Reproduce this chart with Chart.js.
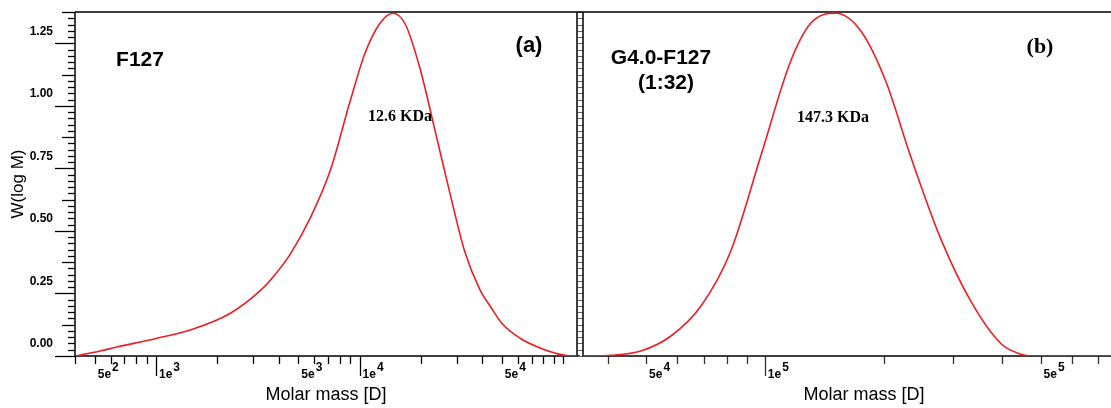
<!DOCTYPE html>
<html>
<head>
<meta charset="utf-8">
<script src="https://cdn.jsdelivr.net/npm/chart.js@4.4.1/dist/chart.umd.min.js"></script>
<style>
html, body { margin: 0; padding: 0; background: #fff; overflow: hidden; width: 1111px; height: 408px; }
#wrapA { position: absolute; left: 0; top: 0; width: 580px; height: 408px; }
#wrapB { position: absolute; left: 577px; top: 0; width: 570px; height: 408px; }
</style>
</head>
<body>
<div id="wrapA"><canvas id="chartA"></canvas></div>
<div id="wrapB"><canvas id="chartB"></canvas></div>
<script>
// panel (a): F127
const massA = [404, 531, 643, 1000, 1470, 2310, 3240, 3840, 4550, 5710, 7170, 9000, 10630, 12600, 14600,
               16800, 19800, 23500, 27800, 32800, 39000, 44600, 50100, 61800, 77000, 91900, 108900, 117000];
const wA = [0, 0.02, 0.036, 0.07, 0.104, 0.17, 0.26, 0.325, 0.405, 0.55, 0.74, 1.02, 1.21, 1.33, 1.37,
            1.325, 1.15, 0.90, 0.65, 0.42, 0.265, 0.19, 0.13, 0.07, 0.032, 0.011, 0, 0];

// panel (b): G4.0-F127 (1:32)
const massB = [34600, 40700, 48500, 57800, 68900, 82000, 97700, 116400, 130700, 151300,
               175000, 202400, 234000, 279000, 332500, 396500, 440000, 472000, 920000];
const wB = [0, 0.003, 0.02, 0.08, 0.20, 0.42, 0.80, 1.18, 1.33, 1.37,
            1.30, 1.10, 0.80, 0.47, 0.22, 0.05, 0.01, 0, 0];

// tick labels (mantissa + 'e' then exponent, drawn as superscript)
const xTicksA = [500, 1000, 5000, 10000, 50000];
const xLabelsA = ['5e2', '1e3', '5e3', '1e4', '5e4'];
const xTicksB = [50000, 100000, 500000];
const xLabelsB = ['5e4', '1e5', '5e5'];
const yTicks = [0, 0.25, 0.5, 0.75, 1.0, 1.25];
const yLabels = ['0.00', '0.25', '0.50', '0.75', '1.00', '1.25'];

const RED = 'rgb(236, 30, 36)';
const SANS = 'Liberation Sans, Arial, sans-serif';
const SERIF = 'Liberation Serif, Times New Roman, serif';

// minor tick positions along a log axis (every integer x 10^n)
function logMinor(min, max) {
  const out = [];
  for (let p = Math.floor(Math.log10(min)); p <= Math.ceil(Math.log10(max)); p++) {
    for (let k = 1; k < 10; k++) {
      const v = k * Math.pow(10, p);
      if (v >= min * 0.999 && v <= max) out.push(v);
    }
  }
  return out;
}

function decor(cfg) {
  return {
    id: 'decor',
    beforeDatasetsDraw(chart) {
      const { ctx, chartArea: a, scales } = chart;
      ctx.save();
      ctx.strokeStyle = cfg.hatch ? '#666' : '#000';
      ctx.lineWidth = cfg.hatch ? 1 : 1.3;
      // y ticks every 0.025
      for (let i = 0; i <= 55; i++) {
        const py = Math.round(scales.y.getPixelForValue(i * 0.025)) + 0.5;
        let len = i % 10 === 0 ? 20 : (i % 5 === 0 ? 13 : 7);
        if (cfg.hatch) len = 5;
        ctx.beginPath();
        ctx.moveTo(a.left - len, py);
        ctx.lineTo(a.left, py);
        ctx.stroke();
      }
      // x ticks
      ctx.lineWidth = 1.3;
      ctx.strokeStyle = cfg.xTickColor;
      logMinor(scales.x.min, scales.x.max).forEach(v => {
        const px = Math.round(scales.x.getPixelForValue(v)) + 0.5;
        const len = cfg.longX.includes(v) ? 20 : 8;
        ctx.beginPath();
        ctx.moveTo(px, a.bottom);
        ctx.lineTo(px, a.bottom + len);
        ctx.stroke();
      });
      // frame
      ctx.strokeStyle = '#000';
      ctx.lineWidth = 1.5;
      ctx.beginPath();
      ctx.moveTo(a.left - (cfg.hatch ? 6 : 0), a.top);
      ctx.lineTo(a.right, a.top);
      ctx.moveTo(a.left, a.top);
      ctx.lineTo(a.left, a.bottom);
      ctx.lineTo(a.right + 20, a.bottom);
      if (cfg.rightBorder) {
        ctx.moveTo(a.right, a.top);
        ctx.lineTo(a.right, a.bottom);
      }
      ctx.stroke();
      // x tick labels with superscript exponent
      ctx.fillStyle = '#000';
      ctx.textAlign = 'left';
      ctx.textBaseline = 'middle';
      cfg.xTicks.forEach((v, i) => {
        const px = scales.x.getPixelForValue(v) + 3;
        const lab = cfg.xLabels[i];
        const base = lab.slice(0, -1), exp = lab.slice(-1);
        ctx.font = 'bold 12px ' + SANS;
        ctx.fillText(base, px, a.bottom + 19);
        const bw = ctx.measureText(base).width;
        ctx.fillText(exp, px + bw + 1, a.bottom + 12);
      });
      ctx.restore();
    },
    afterDraw(chart) {
      const ctx = chart.ctx;
      ctx.save();
      ctx.fillStyle = '#000';
      ctx.textAlign = 'center';
      ctx.textBaseline = 'middle';
      cfg.notes.forEach(n => {
        ctx.font = n.font;
        ctx.fillText(n.text, n.x, n.y);
      });
      ctx.restore();
    }
  };
}

function makeChart(id, mass, w, xmin, xmax, cfg) {
  return new Chart(document.getElementById(id), {
    type: 'line',
    data: {
      datasets: [{
        data: mass.map((m, i) => ({ x: m, y: w[i] })),
        borderColor: RED,
        borderWidth: 1.6,
        pointRadius: 0,
        cubicInterpolationMode: 'monotone',
        fill: false
      }]
    },
    options: {
      responsive: true,
      maintainAspectRatio: false,
      animation: false,
      layout: { padding: cfg.padding },
      plugins: { legend: { display: false }, tooltip: { enabled: false } },
      scales: {
        x: {
          type: 'logarithmic',
          min: xmin,
          max: xmax,
          afterBuildTicks: s => { s.ticks = cfg.xTicks.map(v => ({ value: v })); },
          afterFit: s => { s.height = 52; s.paddingLeft = 0; s.paddingRight = 0; },
          grid: { display: false, drawTicks: false },
          border: { display: false },
          ticks: { display: false },
          title: {
            display: true,
            text: 'Molar mass [D]',
            color: '#000',
            font: { family: SANS, size: 18 },
            padding: { top: 0, bottom: 2 }
          }
        },
        y: {
          display: cfg.showY,
          min: 0,
          max: 1.375,
          afterBuildTicks: s => { s.ticks = yTicks.map(v => ({ value: v })); },
          afterFit: s => {
            if (cfg.showY) s.width = 75;
            s.paddingTop = 0;
            s.paddingBottom = 0;
          },
          grid: { display: false, drawTicks: false },
          border: { display: false },
          ticks: {
            autoSkip: false,
            labelOffset: -12,
            padding: 22,
            color: '#000',
            font: { family: SANS, size: 12, weight: 'bold' },
            callback: (v, i) => yLabels[i]
          },
          title: {
            display: true,
            text: 'W(log M)',
            color: '#000',
            font: { family: SANS, size: 17 },
            padding: { top: 8, bottom: 0 }
          }
        }
      }
    },
    plugins: [decor(cfg)]
  });
}

makeChart('chartA', massA, wA, 400, 117000, {
  showY: true,
  padding: { top: 12, right: 3, left: 0, bottom: 0 },
  xTicks: xTicksA,
  xLabels: xLabelsA,
  longX: [1000, 10000],
  xTickColor: '#000',
  rightBorder: true,
  hatch: false,
  notes: [
    { text: 'F127', x: 140, y: 60, font: 'bold 21px ' + SANS },
    { text: '(a)', x: 529, y: 46, font: 'bold 22px ' + SANS },
    { text: '12.6 KDa', x: 400, y: 117, font: 'bold 16px ' + SERIF }
  ]
});

makeChart('chartB', massB, wB, 34600, 920000, {
  showY: false,
  padding: { top: 12, right: 2, left: 6, bottom: 0 },
  xTicks: xTicksB,
  xLabels: xLabelsB,
  longX: [100000],
  xTickColor: '#333',
  rightBorder: false,
  hatch: true,
  notes: [
    { text: 'G4.0-F127', x: 84, y: 58, font: 'bold 21px ' + SANS },
    { text: '(1:32)', x: 89, y: 83, font: 'bold 21px ' + SANS },
    { text: '(b)', x: 463, y: 47, font: 'bold 22px ' + SERIF },
    { text: '147.3 KDa', x: 256, y: 118, font: 'bold 16px ' + SERIF }
  ]
});
</script>
</body>
</html>
